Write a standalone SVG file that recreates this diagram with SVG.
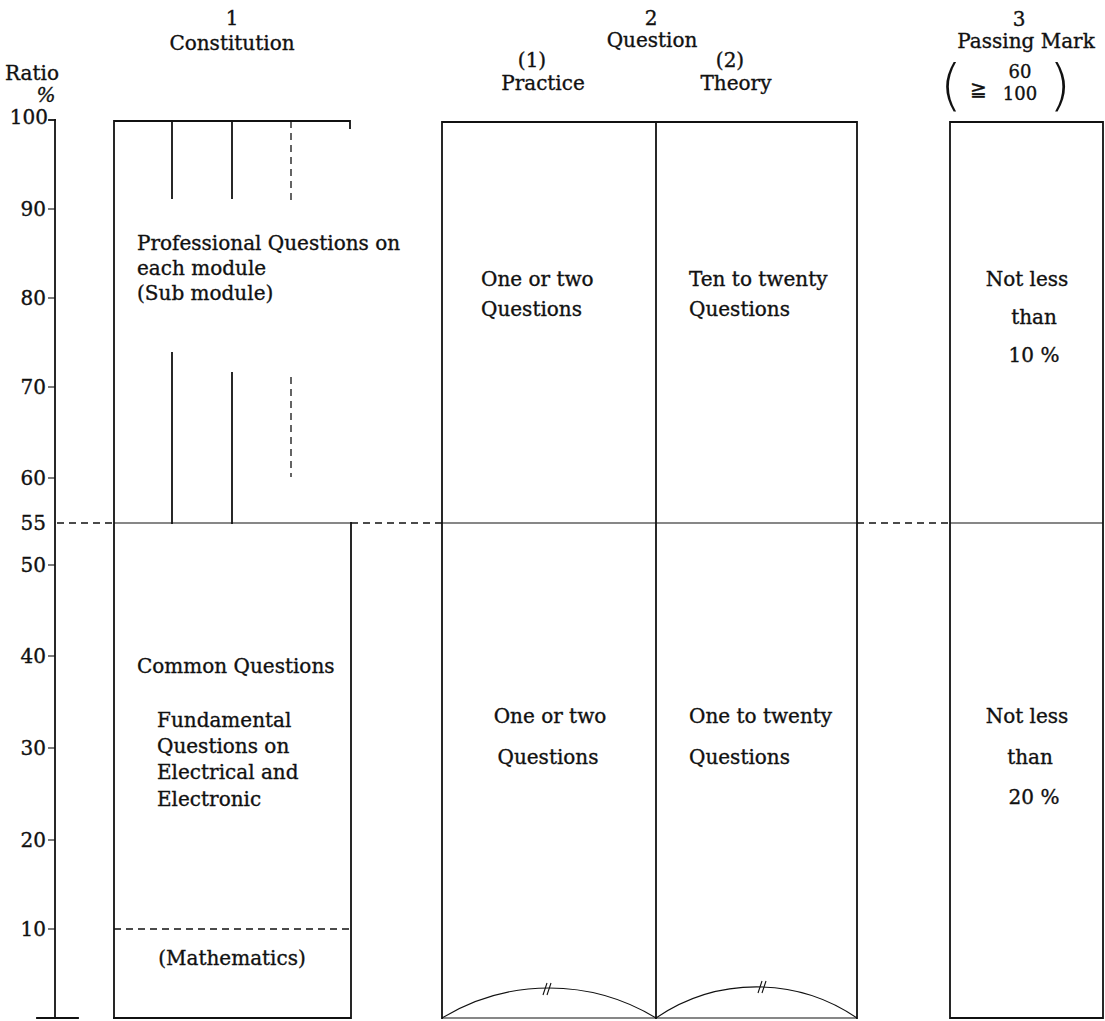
<svg xmlns="http://www.w3.org/2000/svg" width="1105" height="1021" viewBox="0 0 1105 1021">
  <style>
    text { font-family: "DejaVu Serif", "Liberation Serif", serif; font-size: 20px; fill: #111; stroke: #111; stroke-width: 0.35; }
    .c { text-anchor: middle; }
    .e { text-anchor: end; }
    .ln { stroke: #111; stroke-width: 1.8; fill: none; stroke-linecap: square; }
    .thin { stroke: #111; stroke-width: 1.1; fill: none; }
    .dash { stroke: #111; stroke-width: 1.3; fill: none; stroke-dasharray: 7 5; }
    .paren { font-family: "DejaVu Sans", "Liberation Sans", sans-serif; font-weight: 200; font-size: 56px; stroke-width: 0; }
    .frac { font-size: 18px; }
  </style>

  <rect width="1105" height="1021" fill="#fff"/>

  <!-- Ratio axis -->
  <g id="axis">
    <text x="32" y="80" class="c">Ratio</text>
    <text x="46" y="102" class="c" font-style="italic" font-size="17">%</text>
    <line class="ln" x1="55" y1="120" x2="55" y2="1018"/>
    <line class="ln" x1="49" y1="120" x2="55" y2="120"/>
    <line class="ln" x1="37" y1="1018" x2="78" y2="1018"/>
    <g class="thin">
      <line x1="48" y1="209" x2="55" y2="209"/>
      <line x1="48" y1="298" x2="55" y2="298"/>
      <line x1="48" y1="387" x2="55" y2="387"/>
      <line x1="48" y1="478" x2="55" y2="478"/>
      <line x1="48" y1="565" x2="55" y2="565"/>
      <line x1="48" y1="656" x2="55" y2="656"/>
      <line x1="48" y1="748" x2="55" y2="748"/>
      <line x1="48" y1="840" x2="55" y2="840"/>
      <line x1="48" y1="929" x2="55" y2="929"/>
    </g>
    <text x="48" y="124" class="e">100</text>
    <text x="46" y="216" class="e">90</text>
    <text x="46" y="305" class="e">80</text>
    <text x="46" y="394" class="e">70</text>
    <text x="46" y="485" class="e">60</text>
    <text x="46" y="530" class="e">55</text>
    <text x="46" y="572" class="e">50</text>
    <text x="46" y="663" class="e">40</text>
    <text x="46" y="755" class="e">30</text>
    <text x="46" y="847" class="e">20</text>
    <text x="46" y="936" class="e">10</text>
  </g>

  <!-- 55 % reference line across the chart -->
  <g id="connectors">
    <line class="dash" x1="57" y1="523" x2="114" y2="523"/>
    <line class="thin" x1="114" y1="523" x2="351" y2="523"/>
    <line class="dash" x1="351" y1="523" x2="442" y2="523"/>
    <line class="thin" x1="442" y1="523" x2="857" y2="523"/>
    <line class="dash" x1="857" y1="523" x2="950" y2="523"/>
    <line class="thin" x1="950" y1="523" x2="1103" y2="523"/>
  </g>

  <!-- 1 Constitution -->
  <g id="constitution">
    <text x="232" y="25" class="c">1</text>
    <text x="232" y="50" class="c">Constitution</text>
    <path class="ln" d="M114,1018 V121 H350 V128"/>
    <path class="ln" d="M351,523 V1018 H114"/>
    <!-- module dividers -->
    <line class="ln" x1="172" y1="121" x2="172" y2="198"/>
    <line class="ln" x1="232" y1="121" x2="232" y2="198"/>
    <line class="dash" x1="291" y1="121" x2="291" y2="201" stroke-dasharray="6 4"/>
    <line class="ln" x1="172" y1="353" x2="172" y2="523"/>
    <line class="ln" x1="232" y1="373" x2="232" y2="523"/>
    <line class="dash" x1="291" y1="377" x2="291" y2="477" stroke-dasharray="6 4"/>
    <line class="dash" x1="114" y1="929" x2="351" y2="929"/>
    <text x="137" y="250">Professional Questions on</text>
    <text x="137" y="275">each module</text>
    <text x="137" y="300">(Sub module)</text>
    <text x="137" y="673">Common Questions</text>
    <text x="157" y="727">Fundamental</text>
    <text x="157" y="753">Questions on</text>
    <text x="157" y="779">Electrical and</text>
    <text x="157" y="806">Electronic</text>
    <text x="232" y="965" class="c">(Mathematics)</text>
  </g>

  <!-- 2 Question -->
  <g id="question">
    <text x="651" y="25" class="c">2</text>
    <text x="652" y="47" class="c">Question</text>
    <text x="532" y="67" class="c" font-size="19">(1)</text>
    <text x="543" y="90" class="c">Practice</text>
    <text x="730" y="67" class="c" font-size="19">(2)</text>
    <text x="736" y="90" class="c">Theory</text>
    <path class="ln" d="M442,1018 V122 H857 V1018"/>
    <line class="ln" x1="656" y1="122" x2="656" y2="1018"/>
    <line class="thin" x1="442" y1="1018" x2="857" y2="1018"/>
    <path class="thin" d="M442,1018 A206,206 0 0 1 656,1018 A178,178 0 0 1 857,1018"/>
    <path class="thin" d="M543,995 L547,983 M547,995 L551,983 M758,993 L762,981 M762,993 L766,981"/>
    <text x="481" y="286">One or two</text>
    <text x="481" y="316">Questions</text>
    <text x="689" y="286">Ten to twenty</text>
    <text x="689" y="316">Questions</text>
    <text x="550" y="723" class="c">One or two</text>
    <text x="548" y="764" class="c">Questions</text>
    <text x="689" y="723">One to twenty</text>
    <text x="689" y="764">Questions</text>
  </g>

  <!-- 3 Passing Mark -->
  <g id="passing-mark">
    <text x="1019" y="26" class="c">3</text>
    <text x="1026" y="48" class="c" font-size="19">Passing Mark</text>
    <text x="951" y="104" class="c paren">(</text>
    <text x="1060" y="104" class="c paren">)</text>
    <text x="978" y="96" class="c" font-family="DejaVu Sans, Noto Sans CJK JP, sans-serif">≧</text>
    <text x="1020" y="78" class="c frac">60</text>
    <text x="1020" y="100" class="c frac">100</text>
    <path class="ln" d="M950,1018 V122 H1103 V1018 H950"/>
    <text x="1027" y="286" class="c">Not less</text>
    <text x="1034" y="324" class="c">than</text>
    <text x="1034" y="362" class="c">10 %</text>
    <text x="1027" y="723" class="c">Not less</text>
    <text x="1030" y="764" class="c">than</text>
    <text x="1034" y="804" class="c">20 %</text>
  </g>
</svg>
